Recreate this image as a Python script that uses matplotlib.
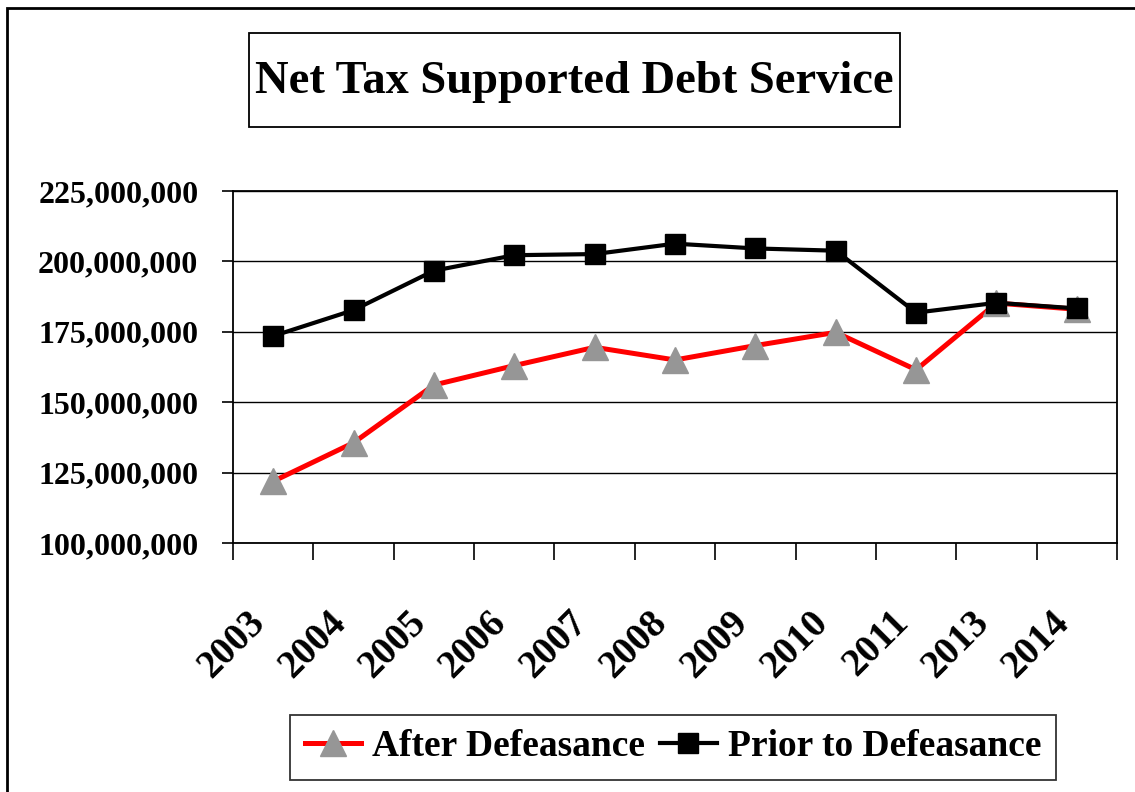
import matplotlib
matplotlib.use("Agg")
import matplotlib.pyplot as plt
from matplotlib.patches import Rectangle
from matplotlib.ticker import FuncFormatter, FixedLocator

plt.rcParams["font.family"] = "Liberation Serif"
plt.rcParams["font.weight"] = "bold"

years = ["2003", "2004", "2005", "2006", "2007", "2008",
         "2009", "2010", "2011", "2013", "2014"]
after_defeasance = [121.9e6, 135.6e6, 156.1e6, 163.0e6, 169.5e6, 165.0e6,
                    170.1e6, 174.8e6, 161.5e6, 185.2e6, 183.0e6]
prior_to_defeasance = [173.5e6, 182.7e6, 196.7e6, 202.2e6, 202.6e6, 206.3e6,
                       204.6e6, 203.8e6, 181.8e6, 185.3e6, 183.3e6]
y_ticks = [100e6, 125e6, 150e6, 175e6, 200e6, 225e6]

W, H = 1135, 792
fig = plt.figure(figsize=(W / 100, H / 100), dpi=100)

# outer chart border
fig.patches.append(Rectangle((7 / W, -0.05), 1.1, 1 - 8 / H + 0.05,
                             transform=fig.transFigure, fill=False,
                             edgecolor="black", linewidth=2.0))

ax = fig.add_axes([233 / W, 1 - 543 / H, (1117 - 233) / W, (543 - 191) / H])
x = list(range(len(years)))

ax.plot(x, after_defeasance, color="#ff0000", linewidth=3.6,
        marker="^", markersize=19, markerfacecolor="#969696",
        markeredgecolor="#969696", label="After Defeasance", zorder=3)
ax.plot(x, prior_to_defeasance, color="black", linewidth=3.0,
        marker="s", markersize=14.5, markerfacecolor="black",
        markeredgecolor="black", label="Prior to Defeasance", zorder=4)

ax.set_xlim(-0.5, len(years) - 0.5)
ax.set_ylim(100e6, 225e6)
ax.set_yticks(y_ticks)
ax.yaxis.set_major_formatter(FuncFormatter(lambda v, p: f"{v:,.0f}"))
ax.grid(axis="y", color="black", linewidth=1.0)
ax.set_axisbelow(True)

# category labels at centres, tick marks on the boundaries
ax.set_xticks(x)
ax.set_xticklabels(years, rotation=45, ha="right", va="top",
                   fontsize=28, fontweight="bold")
ax.tick_params(axis="x", which="major", length=0, pad=44)
ax.xaxis.set_minor_locator(FixedLocator([i - 0.5 for i in range(len(years) + 1)]))
ax.tick_params(axis="x", which="minor", length=12, width=1.2, direction="out")
ax.tick_params(axis="y", length=8, width=1.2, direction="out", pad=17,
               labelsize=23)
for lbl in ax.get_yticklabels():
    lbl.set_fontweight("bold")

for side in ["left", "right", "top", "bottom"]:
    ax.spines[side].set_color("black")
    ax.spines[side].set_linewidth(1.3)

# boxed title
fig.patches.append(Rectangle((249 / W, 1 - 127 / H), (900 - 249) / W, 94 / H,
                             transform=fig.transFigure, fill=False,
                             edgecolor="black", linewidth=1.3))
fig.text(574.5 / W, 1 - 82 / H, "Net Tax Supported Debt Service",
         ha="center", va="center", fontsize=33.5, fontweight="bold")

leg = fig.legend(loc="center", bbox_to_anchor=(673 / W, 1 - 747 / H),
                 ncol=2, fontsize=27, frameon=True, fancybox=False,
                 handlelength=1.5, handletextpad=0.3, columnspacing=0.4,
                 borderpad=0.4, borderaxespad=0)
leg.get_frame().set_edgecolor("black")
leg.get_frame().set_linewidth(1.3)

fig.savefig("out.png", dpi=100)
